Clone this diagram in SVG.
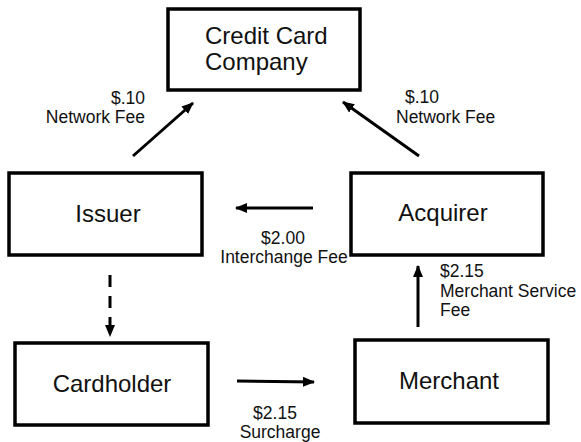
<svg xmlns="http://www.w3.org/2000/svg" width="581" height="442" viewBox="0 0 581 442">
<defs>
<marker id="ah" markerUnits="userSpaceOnUse" markerWidth="12" markerHeight="12" viewBox="0 0 12 12" refX="11" refY="6" orient="auto">
<path d="M0,1 L12,6 L0,11 Z" fill="#000"/>
</marker>
<style>
.box{fill:#fff;stroke:#000;stroke-width:3.5}
.bt{font-family:"Liberation Sans",Arial,sans-serif;font-size:24px;fill:#111;text-anchor:middle}
.bs{text-anchor:start}
.lb{font-family:"Liberation Sans",Arial,sans-serif;font-size:17.5px;fill:#111}
.cn{stroke:#000;stroke-width:3;fill:none;marker-end:url(#ah)}
</style>
</defs>
<rect width="581" height="442" fill="#fff"/>
<g id="ccc">
<rect class="box" x="168" y="9" width="192" height="81"/>
<text class="bt bs" x="205" y="44">Credit Card</text>
<text class="bt bs" x="205" y="70">Company</text>
</g>
<g id="issuer">
<rect class="box" x="9" y="173" width="193" height="82"/>
<text class="bt" x="108" y="222">Issuer</text>
</g>
<g id="acquirer">
<rect class="box" x="351" y="173" width="192" height="82"/>
<text class="bt" x="443" y="221">Acquirer</text>
</g>
<g id="cardholder">
<rect class="box" x="15" y="343" width="193" height="82"/>
<text class="bt" x="112" y="392">Cardholder</text>
</g>
<g id="merchant">
<rect class="box" x="355" y="340" width="193" height="83"/>
<text class="bt" x="449" y="389">Merchant</text>
</g>
<g id="connectors">
<line class="cn" x1="133" y1="156" x2="193" y2="103"/>
<line class="cn" x1="419" y1="156" x2="343" y2="102"/>
<line class="cn" x1="313" y1="208" x2="236" y2="208"/>
<line class="cn" x1="418" y1="327" x2="418" y2="266"/>
<line class="cn" x1="237" y1="381" x2="314" y2="382"/>
<line class="cn" x1="110" y1="275" x2="110" y2="336" stroke-dasharray="12,9"/>
</g>
<g id="labels">
<text class="lb" x="145" y="104" text-anchor="end">$.10</text>
<text class="lb" x="145" y="123" text-anchor="end">Network Fee</text>
<text class="lb" x="405" y="103">$.10</text>
<text class="lb" x="396" y="123">Network Fee</text>
<text class="lb" x="283" y="244" text-anchor="middle">$2.00</text>
<text class="lb" x="284" y="263" text-anchor="middle">Interchange Fee</text>
<text class="lb" x="440" y="277">$2.15</text>
<text class="lb" x="440" y="297">Merchant Service</text>
<text class="lb" x="440" y="316">Fee</text>
<text class="lb" x="275" y="419" text-anchor="middle">$2.15</text>
<text class="lb" x="280" y="438" text-anchor="middle">Surcharge</text>
</g>
</svg>
